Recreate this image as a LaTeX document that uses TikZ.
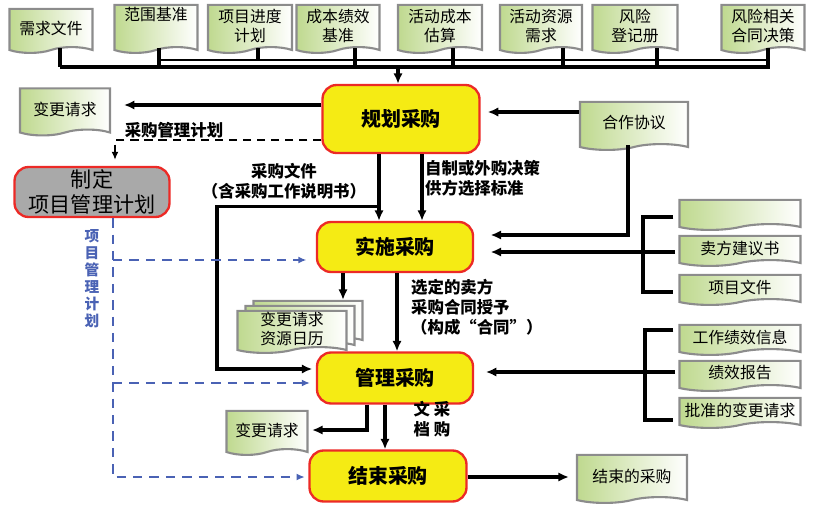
\documentclass[tikz,border=0pt]{standalone}
\usepackage{fontspec}
\newfontfamily\cjk{Noto Sans CJK SC}
\usepackage{tikz}
\usetikzlibrary{positioning, calc, shapes.symbols, arrows.meta}
\definecolor{docgreen}{HTML}{BFD98F}
\definecolor{docgray}{HTML}{8C8C8C}
\definecolor{procyellow}{HTML}{F5EB14}
\definecolor{procred}{HTML}{EC2A26}
\definecolor{pmpgray}{HTML}{A9A9A9}
\definecolor{planblue}{HTML}{4A62B4}
\tikzset{
	procnode/.style={
			rectangle,
			rounded corners=12pt,
			draw=procred,
			line width=2pt,
			fill=procyellow,
			font=\cjk\bfseries\fontsize{17}{20}\selectfont,
			inner sep=0pt
		},
	pmpnode/.style={
			procnode,
			fill=pmpgray,
			align=center,
			font=\cjk\fontsize{18}{21}\selectfont
		},
	docnode/.style={
			tape,
			tape bend top=none,
			tape bend height=5pt,
			draw=docgray,
			line width=1.8pt,
			left color=docgreen,
			right color=white,
			align=center,
			inner sep=1pt,
			font=\cjk\fontsize{13.5}{16}\selectfont
		},
	labelnode/.style={
			inner sep=0pt,
			font=\cjk\bfseries\fontsize{14}{17}\selectfont
		},
	bluelabel/.style={
			inner sep=0pt,
			align=center,
			text=planblue,
			font=\cjk\bfseries\fontsize{12.5}{14.5}\selectfont
		},
	connline/.style={
			line width=2.6pt,
			-{Latex[length=9pt,width=8pt]}
		},
	busline/.style={
			line width=3.6pt
		},
	thinbus/.style={
			line width=1.3pt
		},
	bracketline/.style={
			line width=3.4pt
		},
	dashline/.style={
			line width=2pt,
			dash pattern=on 7pt off 5pt,
			-{Latex[length=7pt,width=6pt]}
		},
	bluedashline/.style={
			line width=2.2pt,
			draw=planblue,
			dash pattern=on 8pt off 6pt,
			-{Latex[length=7pt,width=6pt]}
		}
}

\begin{document}
\begin{tikzpicture}[x=0.03cm, y=-0.03cm]
\useasboundingbox (0,0) rectangle (827,505);

% processes
\node[procnode, minimum width=4.71cm, minimum height=2.04cm] (plan) at (401,119) {规划采购};
\node[procnode, minimum width=4.68cm, minimum height=1.5cm] (conduct) at (395,247) {实施采购};
\node[procnode, minimum width=4.68cm, minimum height=1.53cm] (admin) at (395,378) {管理采购};
\node[procnode, minimum width=4.71cm, minimum height=1.53cm] (close) at (388,476) {结束采购};
\node[pmpnode, minimum width=4.65cm, minimum height=1.5cm] (pmp) at (92,192) {制定\\项目管理计划};

% inputs on top
\node[docnode, minimum width=2.49cm, minimum height=1.32cm] (reqdoc) at (51,28) {需求文件};
\node[docnode, minimum width=2.49cm, minimum height=1.44cm] (scope) at (156,26) {范围基准\\\strut};
\node[docnode, minimum width=2.52cm, minimum height=1.44cm] (sched) at (250,26) {项目进度\\计划};
\node[docnode, minimum width=2.49cm, minimum height=1.44cm] (costb) at (338,26) {成本绩效\\基准};
\node[docnode, minimum width=2.52cm, minimum height=1.44cm] (actcost) at (440,26) {活动成本\\估算};
\node[docnode, minimum width=2.46cm, minimum height=1.44cm] (actres) at (541,26) {活动资源\\需求};
\node[docnode, minimum width=2.55cm, minimum height=1.44cm] (risk) at (635,26) {风险\\登记册};
\node[docnode, minimum width=2.49cm, minimum height=1.44cm] (riskdec) at (763,26) {风险相关\\合同决策};

% other documents
\node[docnode, minimum width=2.7cm, minimum height=1.41cm] (chg1) at (65,109) {变更请求};
\node[docnode, minimum width=3.24cm, minimum height=1.44cm] (team) at (634,123) {合作协议};
\node[docnode, minimum width=3.63cm, minimum height=0.9cm] (blankdoc) at (740,212) {};
\node[docnode, minimum width=3.63cm, minimum height=0.9cm] (seller) at (740,248) {卖方建议书};
\node[docnode, minimum width=3.63cm, minimum height=0.9cm] (projdoc) at (740,287) {项目文件};
\node[docnode, minimum width=3.63cm, minimum height=0.9cm] (wpi) at (740,337) {工作绩效信息};
\node[docnode, minimum width=3.63cm, minimum height=0.9cm] (perf) at (740,373) {绩效报告};
\node[docnode, minimum width=3.63cm, minimum height=0.9cm] (appr) at (740,410) {批准的变更请求};
\node[docnode, minimum width=3.27cm, minimum height=1.26cm] (stack3) at (308,319) {};
\node[docnode, minimum width=3.27cm, minimum height=1.26cm] (stack2) at (300,324) {};
\node[docnode, minimum width=3.27cm, minimum height=1.26cm] (stack1) at (292,329) {变更请求\\资源日历};
\node[docnode, minimum width=2.43cm, minimum height=1.32cm] (chg2) at (267,430) {变更请求};
\node[docnode, minimum width=3.3cm, minimum height=1.44cm] (closed) at (632,476) {结束的采购};

% labels
\node[labelnode] (lblplan) at (174,130) {采购管理计划};
\node[labelnode, align=center] (lbldoc) at (284,181) {采购文件\\（含采购工作说明书）};
\node[labelnode, align=left, anchor=west] (lblmake) at (425,178) {自制或外购决策\\供方选择标准};
\node[labelnode, align=left, anchor=west] (lblsel) at (411,307) {选定的卖方\\采购合同授予\\（构成“合同”）};
\node[labelnode, align=center] (lblarch) at (432,419) {文\ 采\\档\ 购};
\node[bluelabel] (lblpmp) at (92,279) {项\\目\\管\\理\\计\\划};

% bus from the inputs
\coordinate (busL) at (60,67);
\coordinate (busR) at (770,67);
\coordinate (thinL) at (159,60);
\coordinate (thinR) at (770,60);
\draw[thinbus] (thinL) -- (thinR);
\draw[busline] (busL) -- (busR);
\foreach \d/\x/\y in {reqdoc/60/67, scope/159/67, sched/258/60, costb/355/67, actcost/453/67, actres/563/67, risk/657/67, riskdec/768/67}{
  \coordinate (stem-\d) at (\x,\y);
  \draw[busline] (\d.south -| stem-\d) -- (stem-\d);
}
\coordinate (busdown) at (398,67);
\draw[connline] (busdown) -- (busdown |- plan.north);

% plan outputs
\coordinate (pW) at ($(plan.west)+(0,-14)$);
\draw[connline, shorten >=11pt] (pW) -- (pW -| chg1.east);
\coordinate (pD) at ($(plan.west)+(0,21)$);
\coordinate (pmpN) at ($(pmp.north)+(23,0)$);
\draw[dashline, shorten >=5pt] (pD) -| (pmpN);
\coordinate (pA) at ($(plan.south)+(-22,0)$);
\coordinate (pB) at ($(plan.south)+(21,0)$);
\draw[connline] (pA) -- (pA |- conduct.north);
\draw[connline] (pB) -- (pB |- conduct.north);
\coordinate (pC) at ($(pA)+(0,52)$);
\coordinate (lk) at (217,369);
\draw[connline, shorten >=3pt] (pC) -| (lk) -- (lk -| admin.west);

% team agreement
\coordinate (tW) at ($(team.west)+(0,-11)$);
\draw[connline, shorten >=6pt] (tW) -- (tW -| plan.east);
\coordinate (tS) at (628,235);
\draw[connline, shorten >=14pt] (team.south -| tS) -- (tS) -- (tS -| conduct.east);

% right brackets
\coordinate (br1t) at (643,217);
\coordinate (br1b) at (643,292);
\draw[bracketline] ($(blankdoc.west |- br1t)+(-5,0)$) -| (br1b) -- ($(projdoc.west |- br1b)+(-5,0)$);
\coordinate (sA) at (675,252);
\draw[connline, shorten >=14pt] (sA) -- (sA -| conduct.east);
\coordinate (br2t) at (645,330);
\coordinate (br2b) at (645,420);
\draw[bracketline] ($(wpi.west |- br2t)+(-5,0)$) -| (br2b) -- ($(appr.west |- br2b)+(-5,0)$);
\coordinate (rA) at (675,372);
\draw[connline, shorten >=10pt] (rA) -- (rA -| admin.east);

% conduct and administer outputs
\coordinate (cA) at ($(conduct.south)+(-52,0)$);
\draw[connline] (cA) -- (cA |- stack3.north);
\coordinate (cB) at ($(conduct.south)+(2,0)$);
\draw[connline] (cB) -- (cB |- admin.north);
\coordinate (aA) at ($(admin.south)+(-28,0)$);
\coordinate (aB) at ($(admin.south)+(-10,0)$);
\draw[connline, shorten >=3pt] (aA) |- (chg2.east);
\draw[connline] (aB) -- (aB |- close.north);
\coordinate (kE) at ($(close.east)+(0,1)$);
\draw[connline, shorten >=6pt] (kE) -- (kE -| closed.west);

% project management plan
\coordinate (bv) at ($(pmp.south)+(21,0)$);
\coordinate (cW) at ($(conduct.west)+(0,13)$);
\coordinate (aW) at ($(admin.west)+(0,5)$);
\coordinate (kW) at ($(close.west)+(0,1)$);
\draw[bluedashline, shorten >=3pt] (bv) |- (kW);
\draw[bluedashline, shorten >=8pt] (bv |- cW) -- (cW);
\draw[bluedashline, shorten >=5pt] (bv |- aW) -- (aW);

\end{tikzpicture}
\end{document}
